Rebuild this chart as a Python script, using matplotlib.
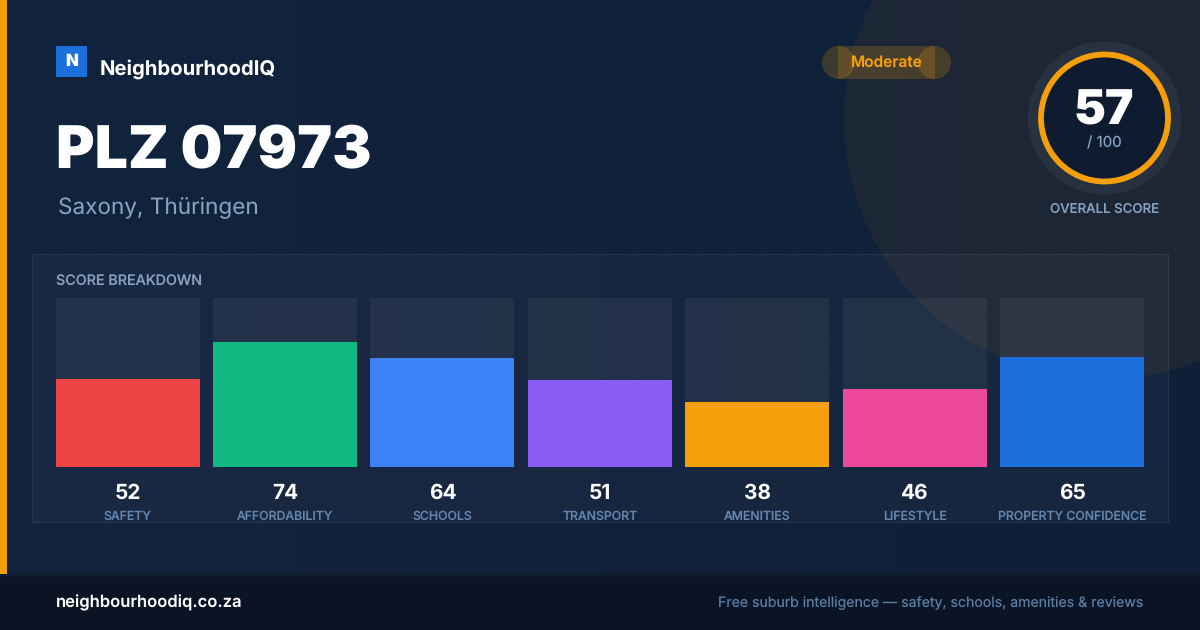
import numpy as np
import matplotlib
matplotlib.use("Agg")
import matplotlib.pyplot as plt
from matplotlib.patches import Rectangle, Circle
from matplotlib.colors import LinearSegmentedColormap

categories = ["SAFETY", "AFFORDABILITY", "SCHOOLS", "TRANSPORT", "AMENITIES", "LIFESTYLE", "PROPERTY CONFIDENCE"]
scores = [52, 74, 64, 51, 38, 46, 65]
bar_colors = ["#ef4444", "#10b981", "#3b82f6", "#8b5cf6", "#f59e0b", "#ec4899", "#1d6fdc"]
overall = 57
title = "PLZ 07973"
subtitle = "Saxony, Thüringen"

W, H = 1200, 630
plt.rcParams["font.family"] = ["Inter", "DejaVu Sans"]
plt.rcParams["text.hinting"] = "none"
plt.rcParams["text.hinting_factor"] = 1

fig = plt.figure(figsize=(W / 100, H / 100), dpi=100, facecolor="#11223c")

# background layer in pixel coordinates, y going down
bg = fig.add_axes([0, 0, 1, 1])
grad = np.linspace(0, 1, 256).reshape(1, -1)
bg.imshow(grad, extent=[0, W, H, 0], aspect="auto", cmap=LinearSegmentedColormap.from_list("bg", ["#12233d", "#0f1f38"]), zorder=0)
bg.set_xlim(0, W)
bg.set_ylim(H, 0)
bg.axis("off")

# dot grid
dx, dy = np.meshgrid(np.arange(24, W, 32), np.arange(24, 574, 32))
bg.scatter(dx.ravel(), dy.ravel(), s=2.5, color="white", alpha=0.03, linewidths=0, zorder=1)

# big circle top right
bg.add_patch(Circle((1104, 119), 260, color="#f59e0b", alpha=0.06, lw=0, zorder=2))

# accent strip
bg.add_patch(Rectangle((0, 0), 7, 574, color="#f59e0b", lw=0, zorder=3))

# logo
bg.add_patch(Rectangle((56, 46), 31, 31, color="#1d6fdc", lw=0, zorder=3))
bg.text(71.5, 66, "N", color="white", fontsize=12, fontweight="black", ha="center", va="baseline", zorder=4)
bg.text(100, 75, "NeighbourhoodIQ", color="white", fontsize=14.6, fontweight="bold", ha="left", va="baseline", zorder=4)

bg.text(56, 168, title, color="white", fontsize=42.4, fontweight="black", ha="left", va="baseline", zorder=4)
bg.text(58, 214, subtitle, color="#86a2c0", fontsize=16.25, ha="left", va="baseline", zorder=4)

# pill
for patch in [Rectangle((838, 46), 97, 33), Circle((838.5, 62.5), 16.5), Circle((934.5, 62.5), 16.5)]:
    patch.set(facecolor="#f59e0b", alpha=0.2, lw=0, zorder=3)
    bg.add_patch(patch)
bg.text(886.5, 67, "Moderate", color="#f59e0b", fontsize=11.1, fontweight="semibold", ha="center", va="baseline", zorder=4)

# score ring
bg.add_patch(Circle((1104.5, 118), 76.5, color="white", alpha=0.05, lw=0, zorder=3))
bg.add_patch(Circle((1104.5, 118), 63.5, facecolor="#0f1c30", edgecolor="#f59e0b", lw=4.2, zorder=4))
bg.text(1104, 125, str(overall), color="white", fontsize=34.5, fontweight="black", ha="center", va="baseline", zorder=5)
bg.text(1104.5, 147, "/ 100", color="#86a2c0", fontsize=10.8, ha="center", va="baseline", zorder=5)
bg.text(1104.5, 213, "OVERALL SCORE", color="#86a2c0", fontsize=9.55, fontweight="medium", ha="center", va="baseline", zorder=5)

# panel
bg.add_patch(Rectangle((32, 254), 1136, 268, facecolor=(1, 1, 1, 0.03), edgecolor=(1, 1, 1, 0.07), lw=1, zorder=3))
bg.text(56, 286, "SCORE BREAKDOWN", color="#86a2c0", fontsize=10.3, fontweight="medium", ha="left", va="baseline", zorder=4)

# footer
bg.add_patch(Rectangle((0, 574), W, 56, facecolor="#0a1424", edgecolor="none", zorder=3))
bg.plot([0, W], [574.5, 574.5], color="#15202f", lw=1, zorder=4)
bg.text(56, 607, "neighbourhoodiq.co.za", color="white", fontsize=11.95, fontweight="semibold", ha="left", va="baseline", zorder=4)
bg.text(1143.5, 607, "Free suburb intelligence — safety, schools, amenities & reviews", color="#5a7ca3", fontsize=10.17, ha="right", va="baseline", zorder=4)

# bars, 0-100 scale
left, right, top, bottom = 55.6, 1144, 297.6, 466.6
ax = fig.add_axes([left / W, 1 - bottom / H, (right - left) / W, (bottom - top) / H])
ax.patch.set_alpha(0)
x = np.arange(len(scores))
pitch = (right - left - 144) / 6
ax.bar(x, [100] * len(scores), width=144 / pitch, color=(1, 1, 1, 0.05), lw=0)
ax.bar(x, scores, width=144 / pitch, color=bar_colors, lw=0)
ax.set_xlim(-72 / pitch, 6 + 72 / pitch)
ax.set_ylim(0, 100)
ax.axis("off")

for i, (name, val) in enumerate(zip(categories, scores)):
    cx = left + 72 + i * pitch
    bg.text(cx, 499, str(val), color="white", fontsize=15, fontweight="bold", ha="center", va="baseline", zorder=5)
    bg.text(cx, 520, name, color="#6485ad", fontsize=8.85, fontweight="medium", ha="center", va="baseline", zorder=5)

fig.savefig("out.png", dpi=100, facecolor=fig.get_facecolor())
